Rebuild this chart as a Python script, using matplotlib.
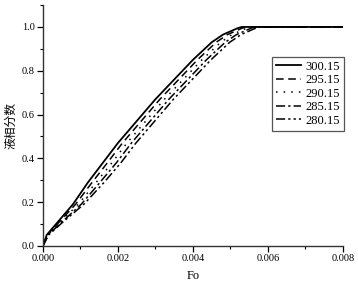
import matplotlib
matplotlib.use("Agg")
import matplotlib.pyplot as plt
from matplotlib.ticker import MultipleLocator, FormatStrFormatter

# Data
frac = [0, 0.05, 0.11, 0.19, 0.29, 0.38, 0.47, 0.57, 0.67, 0.76, 0.85, 0.93, 0.965, 0.98, 0.995, 1.0, 1.0]
fo_300 = [0, 0.0001, 0.0004, 0.0008, 0.0012, 0.0016, 0.0020, 0.0025, 0.0030, 0.0035, 0.0040, 0.0045, 0.0048, 0.0050, 0.0052, 0.0053, 0.008]
fo_295 = [0, 0.00011, 0.00044, 0.00087, 0.00131, 0.00172, 0.00212, 0.00262, 0.00312, 0.00362, 0.00412, 0.00462, 0.00492, 0.00512, 0.00532, 0.00542, 0.008]
fo_290 = [0, 0.00012, 0.00047, 0.00094, 0.00142, 0.00184, 0.00224, 0.00274, 0.00324, 0.00374, 0.00424, 0.00474, 0.00504, 0.00524, 0.00544, 0.00554, 0.008]
fo_285 = [0, 0.00014, 0.00051, 0.00102, 0.00152, 0.00196, 0.00236, 0.00286, 0.00336, 0.00386, 0.00436, 0.00486, 0.00516, 0.00536, 0.00556, 0.00566, 0.008]
fo_280 = [0, 0.00015, 0.00054, 0.00109, 0.00163, 0.00208, 0.00248, 0.00298, 0.00348, 0.00398, 0.00448, 0.00498, 0.00528, 0.00548, 0.00568, 0.00580, 0.008]
labels = ["300.15", "295.15", "290.15", "285.15", "280.15"]
xticks = [0.000, 0.002, 0.004, 0.006, 0.008]
yticks = [0.0, 0.2, 0.4, 0.6, 0.8, 1.0]

num_font = "Liberation Serif"

fig = plt.figure(figsize=(3.58, 2.81), dpi=100)
ax = fig.add_axes([0.120, 0.125, 0.838, 0.857])

styles = [
    dict(ls="-", lw=1.3),
    dict(ls=(0, (5, 3)), lw=1.1),
    dict(ls=(0, (1, 4)), lw=1.1),
    dict(ls=(0, (6, 2, 1.5, 2)), lw=1.1),
    dict(ls=(0, (6, 2, 1.5, 2, 1.5, 2)), lw=1.1),
]
for fo, lab, st in zip([fo_300, fo_295, fo_290, fo_285, fo_280], labels, styles):
    ax.plot(fo, frac, color="black", label=lab, **st)

ax.set_xlim(0, 0.008)
ax.set_ylim(0, 1.1)
ax.set_xticks(xticks)
ax.set_yticks(yticks)
ax.xaxis.set_minor_locator(MultipleLocator(0.001))
ax.yaxis.set_minor_locator(MultipleLocator(0.1))
ax.xaxis.set_major_formatter(FormatStrFormatter("%.3f"))
ax.yaxis.set_major_formatter(FormatStrFormatter("%.1f"))
ax.tick_params(which="major", direction="out", length=4, width=0.9, labelsize=7.5, pad=2)
ax.tick_params(which="minor", direction="out", length=2, width=0.8)
for t in ax.get_xticklabels() + ax.get_yticklabels():
    t.set_fontfamily(num_font)

for s in ["top", "right"]:
    ax.spines[s].set_visible(False)
for s in ["left", "bottom"]:
    ax.spines[s].set_linewidth(1.0)
    ax.spines[s].set_color("#333333")

ax.set_xlabel("Fo", fontfamily=num_font, fontsize=9, labelpad=5)
ax.set_ylabel("液相分数", fontfamily=["Noto Sans CJK SC", "DejaVu Sans"], fontsize=8.5, labelpad=3)

leg = ax.legend(loc="upper right", bbox_to_anchor=(1.003, 0.784), borderaxespad=0,
                prop={"family": num_font, "size": 9}, labelspacing=0.12,
                borderpad=0.3, handletextpad=0.4, handlelength=2.0,
                fancybox=False, framealpha=1)
leg.get_frame().set_edgecolor("#555555")
leg.get_frame().set_linewidth(0.9)

fig.savefig("out.png", dpi=100)
